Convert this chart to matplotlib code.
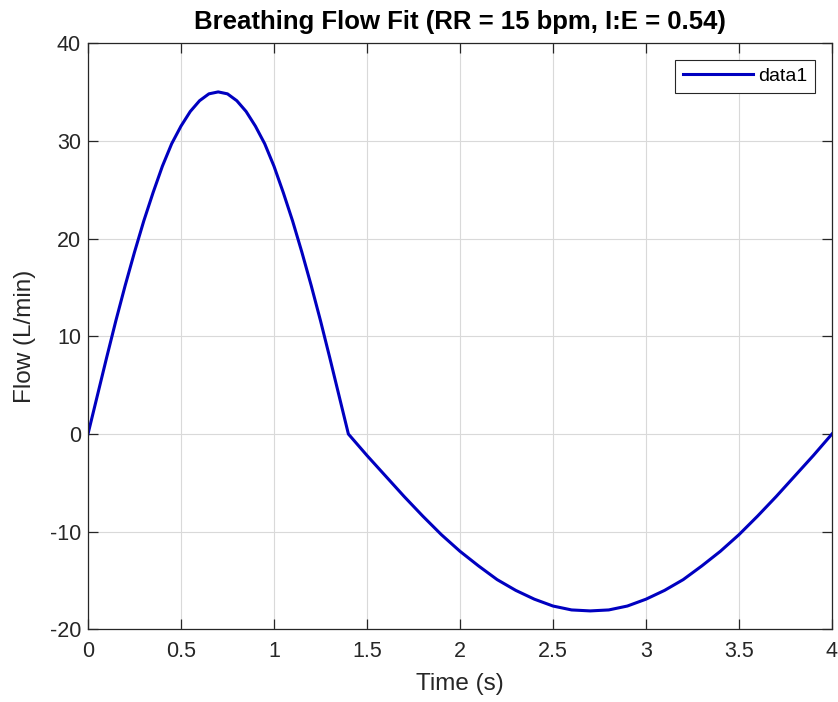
import matplotlib
matplotlib.use("Agg")
import matplotlib.pyplot as plt
import numpy as np

# values
t_insp = np.linspace(0, 1.4, 29)
flow_insp = [0, 3.9, 7.8, 11.6, 15.2, 18.6, 21.8, 24.7, 27.4, 29.7,
             31.5, 33.0, 34.1, 34.8, 35.0, 34.8, 34.1, 33.0, 31.5, 29.7,
             27.4, 24.7, 21.8, 18.6, 15.2, 11.6, 7.8, 3.9, 0]
t_exp = np.linspace(1.4, 4.0, 27)
flow_exp = [0, -2.2, -4.3, -6.4, -8.4, -10.3, -12.0, -13.5, -14.9, -16.0,
            -16.9, -17.6, -18.0, -18.1, -18.0, -17.6, -16.9, -16.0, -14.9,
            -13.5, -12.0, -10.3, -8.4, -6.4, -4.3, -2.2, 0]

x_ticks = [0, 0.5, 1, 1.5, 2, 2.5, 3, 3.5, 4]
x_labels = ["0", "0.5", "1", "1.5", "2", "2.5", "3", "3.5", "4"]
y_ticks = [-20, -10, 0, 10, 20, 30, 40]

time = np.concatenate([t_insp, t_exp[1:]])
flow = np.concatenate([flow_insp, flow_exp[1:]])

plt.rcParams['font.family'] = ['Liberation Sans', 'DejaVu Sans']
plt.rcParams['axes.unicode_minus'] = False

fig = plt.figure(figsize=(8.38, 7.02), dpi=100)
ax = fig.add_axes([0.105, 0.1033, 0.8878, 0.8354])

ax.plot(time, flow, color='#0000c0', lw=2.2, label='data1')

ax.set_xlim(0, 4)
ax.set_ylim(-20, 40)
ax.set_xticks(x_ticks)
ax.set_xticklabels(x_labels)
ax.set_yticks(y_ticks)
ax.grid(True, color='#d9d9d9', lw=0.8)
ax.set_axisbelow(True)

edge = '#262626'
for s in ax.spines.values():
    s.set_color(edge)
    s.set_linewidth(0.9)
ax.tick_params(direction='in', length=7, width=0.9, color=edge,
               top=True, right=True, labelsize=15.5, labelcolor=edge)
ax.tick_params(axis='x', pad=8)
ax.tick_params(axis='y', pad=5)

ax.set_xlabel('Time (s)', fontsize=17.5, color=edge, labelpad=8)
ax.set_ylabel('Flow (L/min)', fontsize=17.5, color=edge, labelpad=10)
ax.set_title('Breathing Flow Fit (RR = 15 bpm, I:E = 0.54)', fontsize=18.5,
             fontweight='bold', color='black', pad=10)

leg = ax.legend(loc='upper right', fontsize=14, fancybox=False, framealpha=1,
                handlelength=3.6, borderaxespad=0.85, borderpad=0.4,
                handletextpad=0.27)
leg.get_frame().set_edgecolor(edge)
leg.get_frame().set_linewidth(0.8)

fig.savefig('out.png', dpi=100)
